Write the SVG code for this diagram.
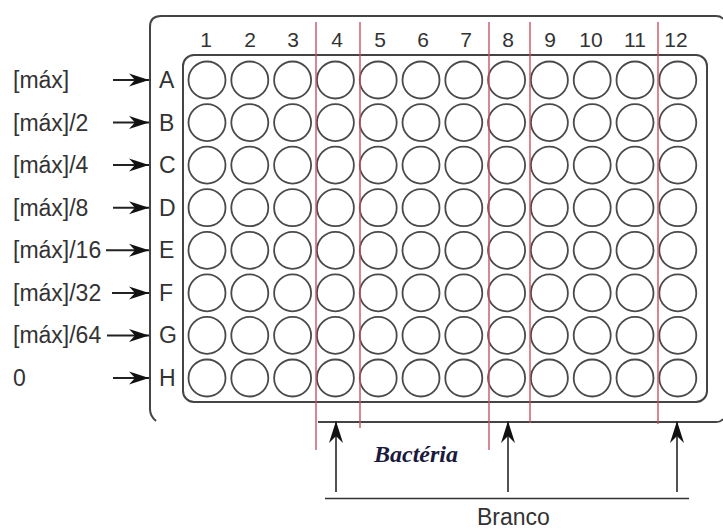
<svg xmlns="http://www.w3.org/2000/svg" xmlns:xlink="http://www.w3.org/1999/xlink" width="723" height="531" viewBox="0 0 723 531">
  <style>
    .plate { fill: none; stroke: #444; stroke-width: 2; }
    .well { fill: none; stroke: #4a4a4a; stroke-width: 1.8; }
    .lbl { font-family: "Liberation Sans", Arial, sans-serif; font-size: 23px; fill: #333; }
    .num { font-family: "Liberation Sans", Arial, sans-serif; font-size: 21px; fill: #333; text-anchor: middle; }
    .guide { stroke: #c9505c; stroke-width: 1.6; opacity: 0.85; }
    .arrow { stroke: #222; stroke-width: 2; fill: none; }
    .arrow-up { stroke: #333; stroke-width: 1.7; fill: none; }
    .base { stroke: #333; stroke-width: 1.5; fill: none; }
  </style>
  <defs>
    <marker id="head-side" markerUnits="userSpaceOnUse" markerWidth="26" markerHeight="18" viewBox="-22 -9 24 18" refX="0" refY="0" orient="auto">
      <path d="M0,0 L-20,-6.5 L-14,0 L-20,6.5 Z" fill="#111"/>
    </marker>
    <marker id="head-up" markerUnits="userSpaceOnUse" markerWidth="28" markerHeight="20" viewBox="-24 -10 26 20" refX="0" refY="0" orient="auto">
      <path d="M0,0 L-22,-7 L-15,0 L-22,7 Z" fill="#111"/>
    </marker>
    <g id="wellrow">
      <circle class="well" cx="207" cy="0" r="18.5"/>
      <circle class="well" cx="249.8" cy="0" r="18.5"/>
      <circle class="well" cx="292.6" cy="0" r="18.5"/>
      <circle class="well" cx="335.4" cy="0" r="18.5"/>
      <circle class="well" cx="378.2" cy="0" r="18.5"/>
      <circle class="well" cx="421" cy="0" r="18.5"/>
      <circle class="well" cx="463.8" cy="0" r="18.5"/>
      <circle class="well" cx="506.6" cy="0" r="18.5"/>
      <circle class="well" cx="549.4" cy="0" r="18.5"/>
      <circle class="well" cx="592.2" cy="0" r="18.5"/>
      <circle class="well" cx="635" cy="0" r="18.5"/>
      <circle class="well" cx="677.8" cy="0" r="18.5"/>
    </g>
  </defs>

  <rect width="723" height="531" fill="#fff"/>

  <!-- microplate body -->
  <g id="plate">
    <path class="plate" d="M723,19 Q721,16 716,16 L161,16 Q150,16 150,27 L150,409 Q150,416 156,421"/>
    <path class="plate" d="M318,422 L716,422 Q721,422 723,419"/>
    <rect class="plate" x="183" y="55" width="524" height="347" rx="11" ry="11"/>
  </g>

  <!-- 8 x 12 wells -->
  <g id="wells">
    <use xlink:href="#wellrow" y="80"/>
    <use xlink:href="#wellrow" y="122.6"/>
    <use xlink:href="#wellrow" y="165.1"/>
    <use xlink:href="#wellrow" y="207.7"/>
    <use xlink:href="#wellrow" y="250.3"/>
    <use xlink:href="#wellrow" y="292.9"/>
    <use xlink:href="#wellrow" y="335.4"/>
    <use xlink:href="#wellrow" y="378"/>
  </g>

  <!-- column numbers -->
  <g id="columns">
    <text class="num" x="206" y="47">1</text>
    <text class="num" x="250" y="47">2</text>
    <text class="num" x="293" y="47">3</text>
    <text class="num" x="337" y="47">4</text>
    <text class="num" x="380" y="47">5</text>
    <text class="num" x="423" y="47">6</text>
    <text class="num" x="466" y="47">7</text>
    <text class="num" x="508" y="47">8</text>
    <text class="num" x="550" y="47">9</text>
    <text class="num" x="591" y="47">10</text>
    <text class="num" x="635" y="47">11</text>
    <text class="num" x="676" y="47">12</text>
  </g>

  <!-- row letters -->
  <g id="rows">
    <text class="lbl" x="159" y="88">A</text>
    <text class="lbl" x="159" y="130.6">B</text>
    <text class="lbl" x="159" y="173.1">C</text>
    <text class="lbl" x="159" y="215.7">D</text>
    <text class="lbl" x="159" y="258.3">E</text>
    <text class="lbl" x="159" y="300.9">F</text>
    <text class="lbl" x="159" y="343.4">G</text>
    <text class="lbl" x="159" y="386">H</text>
  </g>

  <!-- concentration per row -->
  <g id="concentrations">
    <text class="lbl" x="13" y="88">[máx]</text>
    <text class="lbl" x="13" y="130.6">[máx]/2</text>
    <text class="lbl" x="13" y="173.1">[máx]/4</text>
    <text class="lbl" x="13" y="215.7">[máx]/8</text>
    <text class="lbl" x="13" y="258.3">[máx]/16</text>
    <text class="lbl" x="13" y="300.9">[máx]/32</text>
    <text class="lbl" x="13" y="343.4">[máx]/64</text>
    <text class="lbl" x="13" y="386">0</text>
  </g>

  <!-- red column separators -->
  <g id="separators">
    <line class="guide" x1="316" y1="22" x2="316" y2="450"/>
    <line class="guide" x1="360" y1="22" x2="360" y2="428"/>
    <line class="guide" x1="489" y1="22" x2="489" y2="450"/>
    <line class="guide" x1="530" y1="22" x2="530" y2="423"/>
    <line class="guide" x1="658" y1="22" x2="658" y2="424"/>
  </g>

  <!-- connectors -->
  <g id="connectors">
    <line class="arrow" x1="113" y1="80" x2="149" y2="80" marker-end="url(#head-side)"/>
    <line class="arrow" x1="113" y1="122.6" x2="149" y2="122.6" marker-end="url(#head-side)"/>
    <line class="arrow" x1="113" y1="165.1" x2="149" y2="165.1" marker-end="url(#head-side)"/>
    <line class="arrow" x1="113" y1="207.7" x2="149" y2="207.7" marker-end="url(#head-side)"/>
    <line class="arrow" x1="106" y1="250.3" x2="149" y2="250.3" marker-end="url(#head-side)"/>
    <line class="arrow" x1="112" y1="292.9" x2="149" y2="292.9" marker-end="url(#head-side)"/>
    <line class="arrow" x1="107" y1="335.4" x2="149" y2="335.4" marker-end="url(#head-side)"/>
    <line class="arrow" x1="113" y1="378" x2="149" y2="378" marker-end="url(#head-side)"/>

    <line class="arrow-up" x1="336" y1="492" x2="336" y2="421" marker-end="url(#head-up)"/>
    <line class="arrow-up" x1="508" y1="492" x2="508" y2="421" marker-end="url(#head-up)"/>
    <line class="arrow-up" x1="677" y1="492" x2="677" y2="421" marker-end="url(#head-up)"/>
    <line class="base" x1="325" y1="498.5" x2="689" y2="498.5"/>
  </g>

  <!-- captions -->
  <g id="bacteria">
    <text x="374" y="462" font-family="'Liberation Serif', 'Times New Roman', serif" font-size="24" font-weight="bold" font-style="italic" fill="#1a1a3c">Bactéria</text>
  </g>
  <g id="branco">
    <text class="lbl" x="477" y="525" font-size="22">Branco</text>
  </g>
</svg>
